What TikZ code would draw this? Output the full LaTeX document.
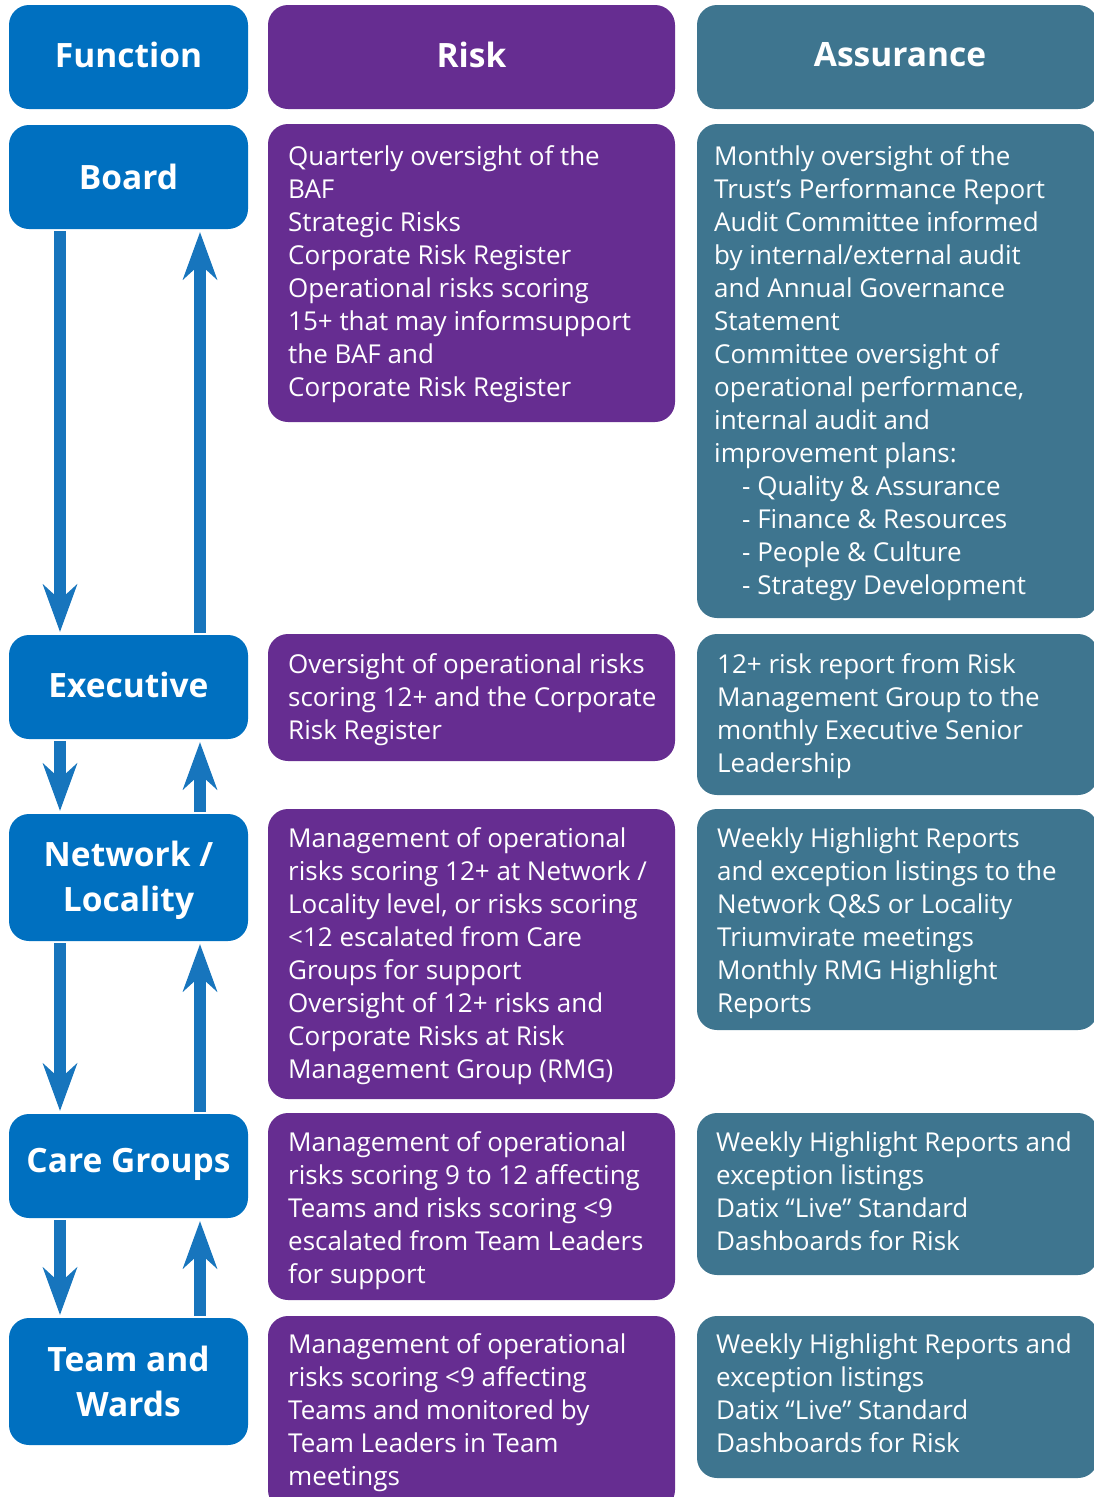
\documentclass[tikz,border=0pt]{standalone}
\usepackage{fontspec}
\setmainfont{Open Sans}
\usetikzlibrary{arrows.meta}
\definecolor{fblue}{RGB}{0,112,192}
\definecolor{rpurple}{RGB}{102,45,145}
\definecolor{ateal}{RGB}{62,117,143}
\definecolor{arrblue}{RGB}{23,117,189}
\newcommand\fst{\rule{0pt}{26pt}}
\tikzset{
  boxbase/.style={rounded corners=20pt, inner sep=0pt, text=white},
  fbox/.style={boxbase, fill=fblue, minimum width=239pt},
  flabel/.style={text=white, inner sep=0pt, align=center, font=\fontsize{33.5}{45}\selectfont\bfseries},
  rbox/.style={boxbase, fill=rpurple, minimum width=407pt},
  abox/.style={boxbase, fill=ateal, minimum width=401pt},
  body/.style={anchor=north west, inner sep=0pt, align=left, text=white, font=\fontsize{26}{33}\selectfont},
  arr/.style={draw=arrblue, line width=12pt, -{Stealth[length=48pt, width=35pt, inset=16pt, line width=0pt]}, shorten <=2pt, shorten >=3pt},
}
\begin{document}
\begin{tikzpicture}[x=1pt,y=-1pt]
\useasboundingbox (0,0) rectangle (1094,1497);
\clip (0,0) rectangle (1094,1497);
% Function column
\node[fbox, minimum height=104pt] (fhead) at (128.5,57) {};
\node[fbox, minimum height=104pt] (board) at (128.5,177) {};
\node[fbox, minimum height=104pt] (exec) at (128.5,687) {};
\node[fbox, minimum height=127pt] (net) at (128.5,877.5) {};
\node[fbox, minimum height=104pt] (care) at (128.5,1166) {};
\node[fbox, minimum height=127pt] (team) at (128.5,1381.5) {};
\node[flabel] (fheadt) at (128.5,55) {Function};
\node[flabel] (boardt) at (128.5,177) {Board};
\node[flabel] (exect) at (128.5,685) {Executive};
\node[flabel] (nett) at (128.5,880) {Network /\\Locality};
\node[flabel] (caret) at (128.5,1164) {Care Groups};
\node[flabel] (teamt) at (128.5,1381.5) {Team and\\Wards};
% Risk column
\node[rbox, minimum height=104pt] (rhead) at (471.5,57) {};
\node[flabel] (rheadt) at (471.5,55) {Risk};
\node[rbox, minimum height=298pt] (rboard) at (471.5,273) {};
\node[rbox, minimum height=127pt] (rexec) at (471.5,697.5) {};
\node[rbox, minimum height=290pt] (rnet) at (471.5,954) {};
\node[rbox, minimum height=187pt] (rcare) at (471.5,1206.5) {};
\node[rbox, minimum height=194pt] (rteam) at (471.5,1413) {};
% Assurance column
\node[abox, minimum height=104pt] (ahead) at (897.5,57) {};
\node[flabel] (aheadt) at (900,55) {Assurance};
\node[abox, minimum height=494pt] (aboard) at (897.5,371) {};
\node[abox, minimum height=161pt] (aexec) at (897.5,714.5) {};
\node[abox, minimum height=221pt] (anet) at (897.5,919.5) {};
\node[abox, minimum height=162pt] (acare) at (897.5,1194) {};
\node[abox, minimum height=162pt] (ateam) at (897.5,1397) {};
% Risk texts
\node[body] (trboard) at (288,139) {\fst Quarterly oversight of the\\BAF\\Strategic Risks\\Corporate Risk Register\\Operational risks scoring\\15+ that may informsupport\\the BAF and\\Corporate Risk Register};
\node[body] (trexec) at (288,647) {\fst Oversight of operational risks\\scoring 12+ and the Corporate\\Risk Register};
\node[body] (trnet) at (288,821) {\fst Management of operational\\risks scoring 12+ at Network /\\Locality level, or risks scoring\\<12 escalated from Care\\Groups for support\\Oversight of 12+ risks and\\Corporate Risks at Risk\\Management Group (RMG)};
\node[body] (trcare) at (288,1125) {\fst Management of operational\\risks scoring 9 to 12 affecting\\Teams and risks scoring <9\\escalated from Team Leaders\\for support};
\node[body] (trteam) at (288,1327) {\fst Management of operational\\risks scoring <9 affecting\\Teams and monitored by\\Team Leaders in Team\\meetings};
% Assurance texts
\node[body] (taboard) at (714,139) {\fst Monthly oversight of the\\Trust’s Performance Report\\Audit Committee informed\\by internal/external audit\\and Annual Governance\\Statement\\Committee oversight of\\operational performance,\\internal audit and\\improvement plans:\\\hspace*{28pt}- Quality \& Assurance\\\hspace*{28pt}- Finance \& Resources\\\hspace*{28pt}- People \& Culture\\\hspace*{28pt}- Strategy Development};
\node[body] (taexec) at (717,647) {\fst 12+ risk report from Risk\\Management Group to the\\monthly Executive Senior\\Leadership};
\node[body] (tanet) at (717,821) {\fst Weekly Highlight Reports\\and exception listings to the\\Network Q\&S or Locality\\Triumvirate meetings\\Monthly RMG Highlight\\Reports};
\node[body] (tacare) at (716,1125) {\fst Weekly Highlight Reports and\\exception listings\\Datix “Live” Standard\\Dashboards for Risk};
\node[body] (tateam) at (716,1327) {\fst Weekly Highlight Reports and\\exception listings\\Datix “Live” Standard\\Dashboards for Risk};
% Arrows
\draw[arr] ([xshift=-68.5pt]board.south) -- ([xshift=-68.5pt]exec.north);
\draw[arr] ([xshift=71.5pt]exec.north) -- ([xshift=71.5pt]board.south);
\draw[arr] ([xshift=-68.5pt]exec.south) -- ([xshift=-68.5pt]net.north);
\draw[arr] ([xshift=71.5pt]net.north) -- ([xshift=71.5pt]exec.south);
\draw[arr] ([xshift=-68.5pt]net.south) -- ([xshift=-68.5pt]care.north);
\draw[arr] ([xshift=71.5pt]care.north) -- ([xshift=71.5pt]net.south);
\draw[arr] ([xshift=-68.5pt]care.south) -- ([xshift=-68.5pt]team.north);
\draw[arr] ([xshift=71.5pt]team.north) -- ([xshift=71.5pt]care.south);
\end{tikzpicture}
\end{document}
